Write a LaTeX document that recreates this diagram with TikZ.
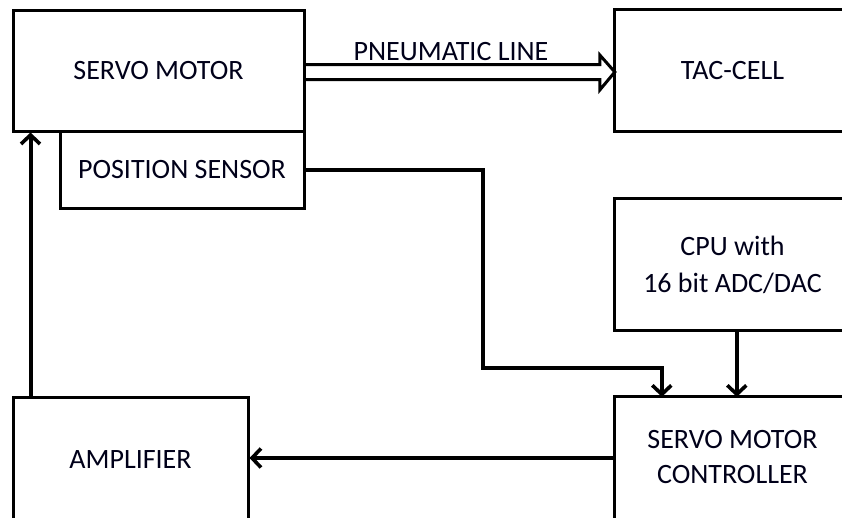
\documentclass[tikz,border=0pt]{standalone}
\usepackage{fontspec}
\setmainfont{Carlito}
\usetikzlibrary{arrows.meta,calc}
\tikzset{
  blk/.style={draw=black, line width=3pt, rectangle, inner sep=0pt, align=center,
    font=\fontsize{28}{37}\selectfont, text=black!90!blue},
  openblk/.style={rectangle, inner sep=0pt},
  edge3/.style={draw=black, line width=3pt, line join=miter},
  txt/.style={inner sep=0pt, align=center, font=\fontsize{28}{37}\selectfont, text=black!90!blue},
  conn/.style={draw=black, line width=4pt, line join=miter,
    -{Straight Barb[length=9pt,width=19pt,line width=3.6pt]}},
  pline/.style={draw=black, line width=3pt, line join=miter},
  lbl/.style={font=\fontsize{28}{30}\selectfont, text=black!90!blue, inner sep=0pt}
}
\begin{document}
\begin{tikzpicture}[x=1pt,y=-1pt]
\useasboundingbox (0,0) rectangle (842,517);
\clip (0,0) rectangle (842,517);
\node[blk, minimum width=291pt, minimum height=121pt] (servo) at (158.5,70.5) {SERVO MOTOR};
\node[blk, minimum width=244pt, minimum height=77pt] (pos) at (182,169.5) {POSITION SENSOR};
\node[openblk, minimum width=300pt, minimum height=121pt] (tac) at (765,70.5) {};
\node[openblk, minimum width=300pt, minimum height=131pt] (cpu) at (765,264.5) {};
\node[openblk, minimum width=300pt, minimum height=126pt] (ctrl) at (765,460) {};
\foreach \b in {tac,cpu,ctrl}
  \draw[edge3] (\b.north east) -- (\b.north west) -- (\b.south west) -- (\b.south east);
\node[txt] (tactext) at (732.5,70.5) {TAC-CELL};
\node[txt] (cputext) at (732.5,264.5) {CPU with\\16 bit ADC/DAC};
\node[txt, font=\fontsize{28}{35}\selectfont] (ctrltext) at (732.5,457) {SERVO MOTOR\\CONTROLLER};
\node[blk, minimum width=235pt, minimum height=126pt] (amp) at (130.5,460) {AMPLIFIER};
% pneumatic double arrow
\path (servo.east) ++(0,1.5) coordinate (ps);
\path (tac.west) ++(0,1.5) coordinate (pt);
\draw[pline] ($(ps)+(0,-7.5)$) -- ($(pt)+(-15,-7.5)$) -- ($(pt)+(-15,-17)$) -- (pt)
  -- ($(pt)+(-15,18)$) -- ($(pt)+(-15,7.5)$) -- ($(ps)+(0,7.5)$);
\node[lbl] (plabel) at (451,52) {PNEUMATIC LINE};
% connectors
\coordinate (bend) at (483,368);
\draw[conn] (pos.east) -| (bend) -| ([xshift=47pt]ctrl.north west);
\draw[conn] ([xshift=122pt]cpu.south west) -- ([xshift=122pt]cpu.south west |- ctrl.north);
\draw[conn] ([yshift=2pt]ctrl.west) -- ([yshift=2pt]ctrl.west -| amp.east);
\draw[conn] ([xshift=19pt]amp.north west) -- ([xshift=19pt]servo.south west);
\end{tikzpicture}
\end{document}
